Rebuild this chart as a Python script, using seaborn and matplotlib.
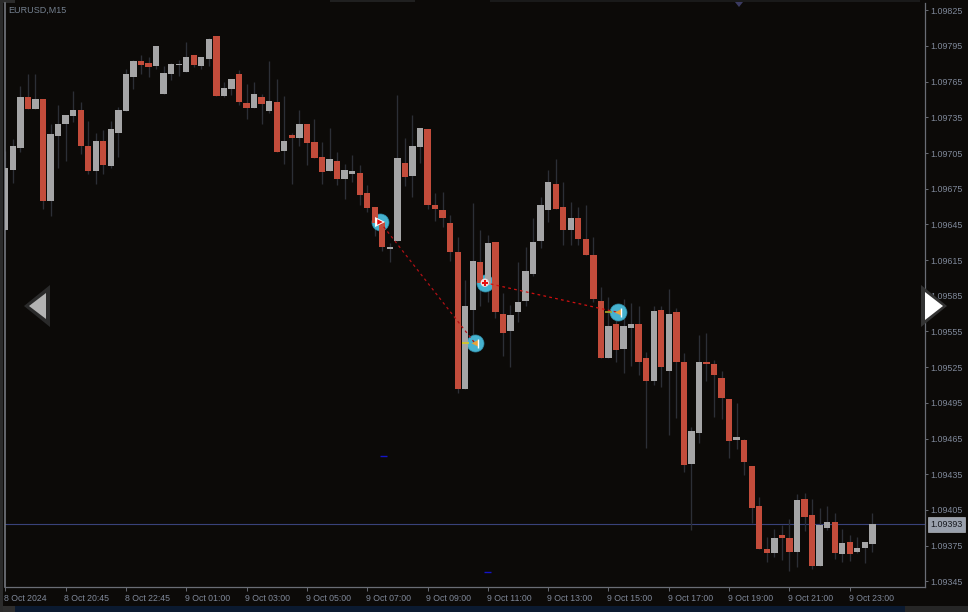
import numpy as np
import pandas as pd
import matplotlib
matplotlib.use('Agg')
import matplotlib.pyplot as plt
from matplotlib.patches import Polygon, Rectangle
from matplotlib.transforms import ScaledTranslation
import seaborn as sns

# EURUSD M15 bars, 8 Oct 2024 18:45 -> 9 Oct 2024 23:45
open_ = [1.09640, 1.09691, 1.09709, 1.09752, 1.09742, 1.09750, 1.09665, 1.09719, 1.09729, 1.09736,
         1.09741, 1.09711, 1.09690, 1.09715, 1.09694, 1.09722, 1.09740, 1.09769, 1.09782, 1.09781,
         1.09778, 1.09755, 1.09771, 1.09779, 1.09773, 1.09787, 1.09778, 1.09784, 1.09803, 1.09753,
         1.09759, 1.09771, 1.09747, 1.09743, 1.09752, 1.09740, 1.09748, 1.09707, 1.09720, 1.09718,
         1.09729, 1.09714, 1.09702, 1.09690, 1.09698, 1.09683, 1.09687, 1.09688, 1.09671, 1.09660,
         1.09647, 1.09624, 1.09631, 1.09697, 1.09686, 1.09710, 1.09725, 1.09661, 1.09657, 1.09646,
         1.09622, 1.09507, 1.09573, 1.09613, 1.09594, 1.09630, 1.09570, 1.09555, 1.09571, 1.09581,
         1.09603, 1.09631, 1.09657, 1.09679, 1.09660, 1.09640, 1.09650, 1.09633, 1.09619, 1.09581,
         1.09533, 1.09561, 1.09540, 1.09558, 1.09561, 1.09533, 1.09513, 1.09573, 1.09522, 1.09571,
         1.09529, 1.09444, 1.09470, 1.09529, 1.09528, 1.09516, 1.09498, 1.09464, 1.09464, 1.09442,
         1.09408, 1.09372, 1.09369, 1.09384, 1.09381, 1.09370, 1.09414, 1.09401, 1.09358, 1.09390,
         1.09395, 1.09368, 1.09378, 1.09370, 1.09373, 1.09376]
close_ = [1.09692, 1.09711, 1.09752, 1.09742, 1.09750, 1.09665, 1.09721, 1.09729, 1.09737, 1.09741,
          1.09711, 1.09690, 1.09715, 1.09695, 1.09725, 1.09741, 1.09771, 1.09782, 1.09779, 1.09777,
          1.09795, 1.09772, 1.09780, 1.09780, 1.09786, 1.09779, 1.09786, 1.09801, 1.09753, 1.09760,
          1.09767, 1.09748, 1.09743, 1.09755, 1.09746, 1.09749, 1.09706, 1.09715, 1.09718, 1.09729,
          1.09713, 1.09701, 1.09689, 1.09700, 1.09683, 1.09691, 1.09690, 1.09670, 1.09659, 1.09646,
          1.09626, 1.09626, 1.09701, 1.09685, 1.09711, 1.09726, 1.09661, 1.09658, 1.09650, 1.09622,
          1.09507, 1.09576, 1.09614, 1.09596, 1.09629, 1.09571, 1.09554, 1.09569, 1.09580, 1.09606,
          1.09630, 1.09661, 1.09681, 1.09658, 1.09640, 1.09650, 1.09633, 1.09619, 1.09582, 1.09533,
          1.09560, 1.09539, 1.09560, 1.09561, 1.09529, 1.09513, 1.09572, 1.09525, 1.09570, 1.09529,
          1.09443, 1.09471, 1.09529, 1.09528, 1.09518, 1.09499, 1.09463, 1.09466, 1.09445, 1.09407,
          1.09372, 1.09369, 1.09381, 1.09381, 1.09370, 1.09413, 1.09399, 1.09358, 1.09392, 1.09395,
          1.09369, 1.09377, 1.09368, 1.09373, 1.09378, 1.09393]
high_ = [1.09707, 1.09717, 1.09761, 1.09771, 1.09771, 1.09750, 1.09729, 1.09745, 1.09737, 1.09757,
         1.09748, 1.09732, 1.09722, 1.09724, 1.09732, 1.09744, 1.09776, 1.09783, 1.09787, 1.09786,
         1.09795, 1.09778, 1.09781, 1.09783, 1.09798, 1.09787, 1.09786, 1.09802, 1.09803, 1.09765,
         1.09767, 1.09775, 1.09763, 1.09765, 1.09755, 1.09782, 1.09767, 1.09753, 1.09722, 1.09741,
         1.09729, 1.09734, 1.09714, 1.09726, 1.09706, 1.09696, 1.09703, 1.09695, 1.09678, 1.09660,
         1.09647, 1.09629, 1.09754, 1.09718, 1.09737, 1.09726, 1.09725, 1.09671, 1.09672, 1.09653,
         1.09634, 1.09598, 1.09663, 1.09640, 1.09636, 1.09630, 1.09587, 1.09577, 1.09613, 1.09626,
         1.09650, 1.09668, 1.09691, 1.09700, 1.09681, 1.09664, 1.09660, 1.09661, 1.09634, 1.09592,
         1.09584, 1.09577, 1.09582, 1.09579, 1.09576, 1.09538, 1.09576, 1.09576, 1.09591, 1.09575,
         1.09537, 1.09475, 1.09552, 1.09554, 1.09531, 1.09522, 1.09498, 1.09495, 1.09465, 1.09442,
         1.09416, 1.09382, 1.09389, 1.09392, 1.09397, 1.09418, 1.09419, 1.09414, 1.09407, 1.09408,
         1.09402, 1.09389, 1.09384, 1.09382, 1.09378, 1.09402]
low_ = [1.09640, 1.09680, 1.09706, 1.09742, 1.09742, 1.09658, 1.09652, 1.09692, 1.09698, 1.09731,
        1.09704, 1.09687, 1.09679, 1.09687, 1.09692, 1.09702, 1.09740, 1.09759, 1.09771, 1.09769,
        1.09776, 1.09755, 1.09766, 1.09770, 1.09773, 1.09777, 1.09776, 1.09778, 1.09753, 1.09752,
        1.09754, 1.09745, 1.09734, 1.09743, 1.09729, 1.09739, 1.09706, 1.09696, 1.09679, 1.09711,
        1.09695, 1.09701, 1.09679, 1.09690, 1.09678, 1.09666, 1.09681, 1.09661, 1.09655, 1.09635,
        1.09623, 1.09613, 1.09631, 1.09677, 1.09668, 1.09697, 1.09658, 1.09648, 1.09643, 1.09614,
        1.09503, 1.09507, 1.09552, 1.09576, 1.09580, 1.09566, 1.09534, 1.09525, 1.09563, 1.09576,
        1.09602, 1.09625, 1.09647, 1.09658, 1.09628, 1.09628, 1.09628, 1.09619, 1.09580, 1.09533,
        1.09533, 1.09529, 1.09520, 1.09526, 1.09518, 1.09457, 1.09510, 1.09508, 1.09468, 1.09482,
        1.09437, 1.09388, 1.09461, 1.09513, 1.09483, 1.09481, 1.09449, 1.09456, 1.09434, 1.09394,
        1.09372, 1.09361, 1.09365, 1.09363, 1.09354, 1.09357, 1.09387, 1.09355, 1.09358, 1.09388,
        1.09364, 1.09361, 1.09362, 1.09369, 1.09360, 1.09370]

tick_bars = [0, 8, 16, 24, 32, 40, 48, 56, 64, 72, 80, 88, 96, 104, 112]
tick_labels = ['8 Oct 2024', '8 Oct 20:45', '8 Oct 22:45', '9 Oct 01:00', '9 Oct 03:00',
               '9 Oct 05:00', '9 Oct 07:00', '9 Oct 09:00', '9 Oct 11:00', '9 Oct 13:00',
               '9 Oct 15:00', '9 Oct 17:00', '9 Oct 19:00', '9 Oct 21:00', '9 Oct 23:00']
price_ticks = [1.09345, 1.09375, 1.09405, 1.09435, 1.09465, 1.09495, 1.09525, 1.09555,
               1.09585, 1.09615, 1.09645, 1.09675, 1.09705, 1.09735, 1.09765, 1.09795, 1.09825]
last_price = 1.09393

# trade markers, entry then exit
trade1_bar = [49.7, 62.3]
trade1_price = [1.09647, 1.09545]
trade2_bar = [63.6, 81.3]
trade2_price = [1.09596, 1.09571]
blue_bar = [50.2, 64.0]
blue_price = [1.09450, 1.09353]

BG = '#0c0a08'
RED = '#c34c3b'
GREY = '#a5a5a6'
WICK = '#2c2f36'
TEXT = '#7f8899'
LINE = '#6a6d75'
W, H = 968, 612

sns.set_theme(style='dark', rc={'axes.facecolor': BG, 'figure.facecolor': BG})
plt.rcParams['font.family'] = ['Liberation Sans', 'DejaVu Sans']

df = pd.DataFrame({'open': open_, 'high': high_, 'low': low_, 'close': close_})
df['bar'] = df.index
df['body'] = (df['close'] - df['open']).abs().clip(lower=0.000012)
df['base'] = df[['open', 'close']].min(axis=1)
df['colour'] = np.where(df['close'] > df['open'], GREY, RED)

fig = plt.figure(figsize=(W / 100, H / 100), dpi=100)
ax = fig.add_axes([4.5 / W, 1 - 587 / H, (925 - 4.5) / W, 584 / H])

ax.vlines(df['bar'], df['low'], df['high'], color=WICK, lw=0.95, zorder=2)
ax.bar(df['bar'], df['body'], bottom=df['base'], width=0.84, color=df['colour'],
       edgecolor='none', linewidth=0, zorder=3)

ax.axhline(last_price, color='#39427a', lw=0.8, zorder=1)

# dashed links between entry and exit
for bars, prices, col in [(trade1_bar, trade1_price, '#b01015'), (trade2_bar, trade2_price, '#d01010')]:
    sns.lineplot(x=bars, y=prices, ax=ax, color=col, lw=0.9, linestyle=(0, (2.2, 2.6)),
                 sort=False, errorbar=None, zorder=6)

# yellow stubs left of the exit markers
for b, p, col in [(trade1_bar[1], trade1_price[1], '#d9c81e'), (trade2_bar[1], trade2_price[1], '#a8a82a')]:
    ax.hlines(p, b - 1.75, b - 0.85, color=col, lw=1.2, zorder=6)

all_bars = [trade1_bar[0], trade2_bar[0], trade1_bar[1], trade2_bar[1]]
all_prices = [trade1_price[0], trade2_price[0], trade1_price[1], trade2_price[1]]
# the circles sit behind the candle bodies
sns.scatterplot(x=all_bars, y=all_prices, ax=ax, s=150, color='#46b2cf', edgecolor='#2e8aa5',
                linewidth=0.5, zorder=2.5, legend=False)
# exit glyph: orange triangle, white stem
sns.scatterplot(x=[trade1_bar[1], trade2_bar[1]], y=[trade1_price[1], trade2_price[1]], ax=ax,
                marker='<', s=24, color='#e8a33a', edgecolor='none', zorder=7, legend=False)
ax.vlines([trade1_bar[1] + 0.42, trade2_bar[1] + 0.42],
          [trade1_price[1] - 0.00004, trade2_price[1] - 0.00004],
          [trade1_price[1] + 0.00004, trade2_price[1] + 0.00004], color='white', lw=1.0, zorder=7)
# entry glyph: white backing with a red mark on top
sns.scatterplot(x=[trade1_bar[0]], y=[trade1_price[0]], ax=ax,
                marker='>', s=52, color='white', edgecolor='none', zorder=8, legend=False)
sns.scatterplot(x=[trade1_bar[0]], y=[trade1_price[0]], ax=ax,
                marker='>', s=16, color='#e81010', edgecolor='none', zorder=9, legend=False)
sns.scatterplot(x=[trade2_bar[0]], y=[trade2_price[0]], ax=ax,
                marker='o', s=36, color='#f3dfe0', edgecolor='none', zorder=8, legend=False)
sns.scatterplot(x=[trade2_bar[0]], y=[trade2_price[0]], ax=ax,
                marker='P', s=18, color='#e81010', edgecolor='none', zorder=9, legend=False)

# little blue dashes
ax.hlines(blue_price, np.array(blue_bar) - 0.45, np.array(blue_bar) + 0.45, color='#1414c8', lw=1.0, zorder=4)

ax.set_xlim(-0.106, 121.98)
ax.set_ylim(1.093402, 1.098311)
ax.set_xlabel('')
ax.set_ylabel('')
ax.grid(False)

ax.set_xticks(tick_bars)
ax.set_xticklabels(tick_labels, ha='left', fontsize=6.3, color=TEXT)
ax.set_yticks(price_ticks)
ax.set_yticklabels([f'{p:.5f}' for p in price_ticks], fontsize=6.4, color=TEXT)
ax.yaxis.tick_right()
ax.xaxis.tick_bottom()
ax.tick_params(axis='x', length=3, width=0.7, color=LINE, pad=1.8, direction='out')
ax.tick_params(axis='y', length=2.5, width=0.7, color=LINE, pad=1.6, direction='out')
nudge = ScaledTranslation(-1.2 / 100, 0, fig.dpi_scale_trans)
for label in ax.get_xticklabels():
    label.set_transform(label.get_transform() + nudge)
for name, spine in ax.spines.items():
    spine.set_visible(name in ('left', 'right', 'bottom'))
    spine.set_color(LINE)
    spine.set_linewidth(0.9)
ax.spines['left'].set_color('#7d8088')
ax.spines['left'].set_linewidth(1.1)

ax.text(8.5 / W, 1 - 10 / H, 'EURUSD,M15', transform=fig.transFigure, fontsize=6.5, color='#74808f',
        ha='left', va='center')

# current price label
ax.text(946.5 / W, 1 - 524.5 / H, f'{last_price:.5f}', transform=fig.transFigure, fontsize=6.4,
        color='#15171c', ha='center', va='center', zorder=10,
        bbox=dict(boxstyle='square,pad=0.3', fc='#9aa1ad', ec='#c8ccd4', lw=0.4))


def px_poly(points, colour, zorder=20):
    pts = [(x / W, 1 - y / H) for x, y in points]
    fig.add_artist(Polygon(pts, closed=True, transform=fig.transFigure, fc=colour, ec='none', zorder=zorder))


def px_rect(x0, y0, x1, y1, colour):
    fig.add_artist(Rectangle((x0 / W, 1 - y1 / H), (x1 - x0) / W, (y1 - y0) / H,
                             transform=fig.transFigure, fc=colour, ec='none', zorder=0))


# window chrome around the chart
px_rect(15, 606, 905, 612, '#0b1a30')
px_rect(905, 606, 968, 612, '#262626')
px_rect(0, 606, 15, 612, '#2e2e2e')
px_rect(0, 0, 3, 612, '#2b2b2b')
px_rect(0, 0, 15, 3, '#2b2b2b')
px_rect(330, 0, 415, 2, '#202020')
px_rect(490, 0, 920, 2, '#1a1a1a')
px_poly([(735, 2), (743, 2), (739, 7)], '#3a3a60')

# scroll arrows
px_poly([(24, 306), (50, 285), (50, 327)], '#2a2a2a')
px_poly([(29, 306), (46, 293), (46, 319)], '#b3b3b3')
px_poly([(921, 285), (947, 306), (921, 327)], '#333333')
px_poly([(925, 292), (943, 306), (925, 320)], '#ffffff')

fig.savefig('out.png', dpi=100, facecolor=BG)
